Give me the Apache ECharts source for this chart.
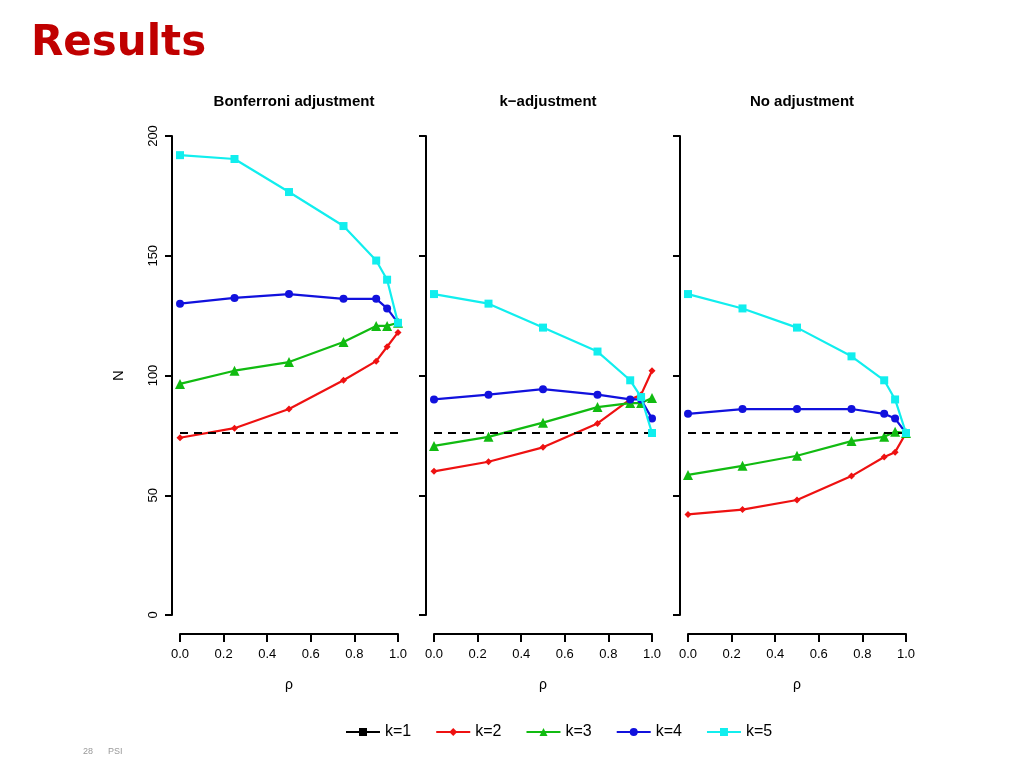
<!DOCTYPE html>
<html><head><meta charset="utf-8">
<script src="https://cdn.jsdelivr.net/npm/echarts@6/dist/echarts.min.js"></script>
<style>html,body{margin:0;padding:0;background:#fff}#c{width:1024px;height:768px}</style>
</head><body><div id="c"></div>
<script>
const rho = [0, 0.25, 0.5, 0.75, 0.9, 0.95, 1.0];
const panelTitles = ['Bonferroni adjustment', 'k\u2212adjustment', 'No adjustment'];
const seriesNames = ['k=1', 'k=2', 'k=3', 'k=4', 'k=5'];
const k1Level = 76;
// panel 1: Bonferroni
const bonf_k2 = [74, 78, 86, 98, 106, 112, 118];
const bonf_k3 = [96.5, 102, 105.6, 114, 120.7, 120.7, 122];
const bonf_k4 = [130, 132.4, 134, 132, 132, 128, 122];
const bonf_k5 = [192, 190.4, 176.6, 162.4, 148, 140, 122];
// panel 2: k-adjustment
const kadj_k2 = [60, 64, 70, 80, 90, 92, 102];
const kadj_k3 = [70.6, 74.4, 80.3, 86.8, 88.5, 88.5, 90.6];
const kadj_k4 = [90, 92, 94.3, 92, 90, 90, 82];
const kadj_k5 = [134, 130, 120, 110, 98, 91, 76];
// panel 3: no adjustment
const none_k2 = [42, 44, 48, 58, 66, 68, 76];
const none_k3 = [58.5, 62.3, 66.5, 72.6, 74.4, 76.5, 76];
const none_k4 = [84, 86, 86, 86, 84, 82, 76];
const none_k5 = [134, 128, 120, 108, 98, 90, 76];
const xTicks = [0, 0.2, 0.4, 0.6, 0.8, 1.0];
const yTicks = [0, 50, 100, 150, 200];

const panels = [
  [bonf_k2, bonf_k3, bonf_k4, bonf_k5],
  [kadj_k2, kadj_k3, kadj_k4, kadj_k5],
  [none_k2, none_k3, none_k4, none_k5]
];
const colors = ['#000000', '#ee1111', '#11bb11', '#1111dd', '#11eeee'];
const symbols = ['rect', 'diamond', 'triangle', 'circle', 'rect'];
const sizes = [8, 7, 10, 8, 8];
const lefts = [180, 434, 688];
const grids = [], xAxes = [], yAxes = [], series = [];
const axisStyle = {lineStyle: {color: '#000', width: 2}};
panels.forEach((p, i) => {
  grids.push({left: lefts[i], top: 136, width: 218, height: 479});
  xAxes.push({gridIndex: i, type: 'value', position: 'bottom', min: 0, max: 1, interval: 0.2, offset: 19,
    name: '\u03c1', nameLocation: 'middle', nameGap: 44, nameTextStyle: {fontSize: 14, color: '#000'},
    axisLine: {show: true, onZero: false, ...axisStyle}, axisTick: {show: true, length: 8, lineStyle: {color: '#000', width: 2}},
    axisLabel: {fontSize: 13, color: '#000', margin: 14, formatter: v => v.toFixed(1)}, splitLine: {show: false}});
  yAxes.push({gridIndex: i, type: 'value', position: 'left', min: 0, max: 200, interval: 50, offset: 8,
    name: i === 0 ? 'N' : '', nameLocation: 'middle', nameGap: 46, nameRotate: 90, nameTextStyle: {fontSize: 15, color: '#000'},
    axisLine: {show: true, onZero: false, ...axisStyle}, axisTick: {show: true, length: 7, lineStyle: {color: '#000', width: 2}},
    axisLabel: {show: i === 0, fontSize: 13, color: '#000', rotate: 90, margin: 12}, splitLine: {show: false}});
  series.push({name: 'k=1', type: 'line', xAxisIndex: i, yAxisIndex: i, data: [], color: colors[0],
    symbol: 'rect', symbolSize: 8, lineStyle: {width: 2},
    markLine: {silent: true, symbol: 'none', label: {show: false},
      lineStyle: {color: '#000', type: [8, 6], width: 2}, data: [{yAxis: k1Level}]}});
  p.forEach((vals, j) => {
    series.push({name: seriesNames[j + 1], type: 'line', xAxisIndex: i, yAxisIndex: i,
      data: rho.map((x, t) => [x, vals[t]]), color: colors[j + 1],
      symbol: symbols[j + 1], symbolSize: sizes[j + 1], lineStyle: {width: 2.2}, z: 3 + j});
  });
});
const chart = echarts.init(document.getElementById('c'));
chart.setOption({
  animation: false,
  textStyle: {fontFamily: 'Liberation Sans, Arial, sans-serif'},
  title: [{text: 'Results', left: 26, top: 18, textStyle: {fontSize: 42, fontWeight: 900, color: '#c00000', fontFamily: 'DejaVu Sans'}}]
    .concat(panelTitles.map((t, i) => ({text: t, left: lefts[i] + 109, top: 89, textAlign: 'center',
      textStyle: {fontSize: 15, fontWeight: 'bold', color: '#000'}})))
    .concat([{text: '28      PSI', left: 78, top: 742, textStyle: {fontSize: 9, fontWeight: 'normal', color: '#999'}}]),
  legend: {data: seriesNames, left: 340, top: 719, itemWidth: 34, itemHeight: 10, itemGap: 24,
    textStyle: {fontSize: 16, color: '#000'}},
  grid: grids, xAxis: xAxes, yAxis: yAxes, series: series
});
</script></body></html>
